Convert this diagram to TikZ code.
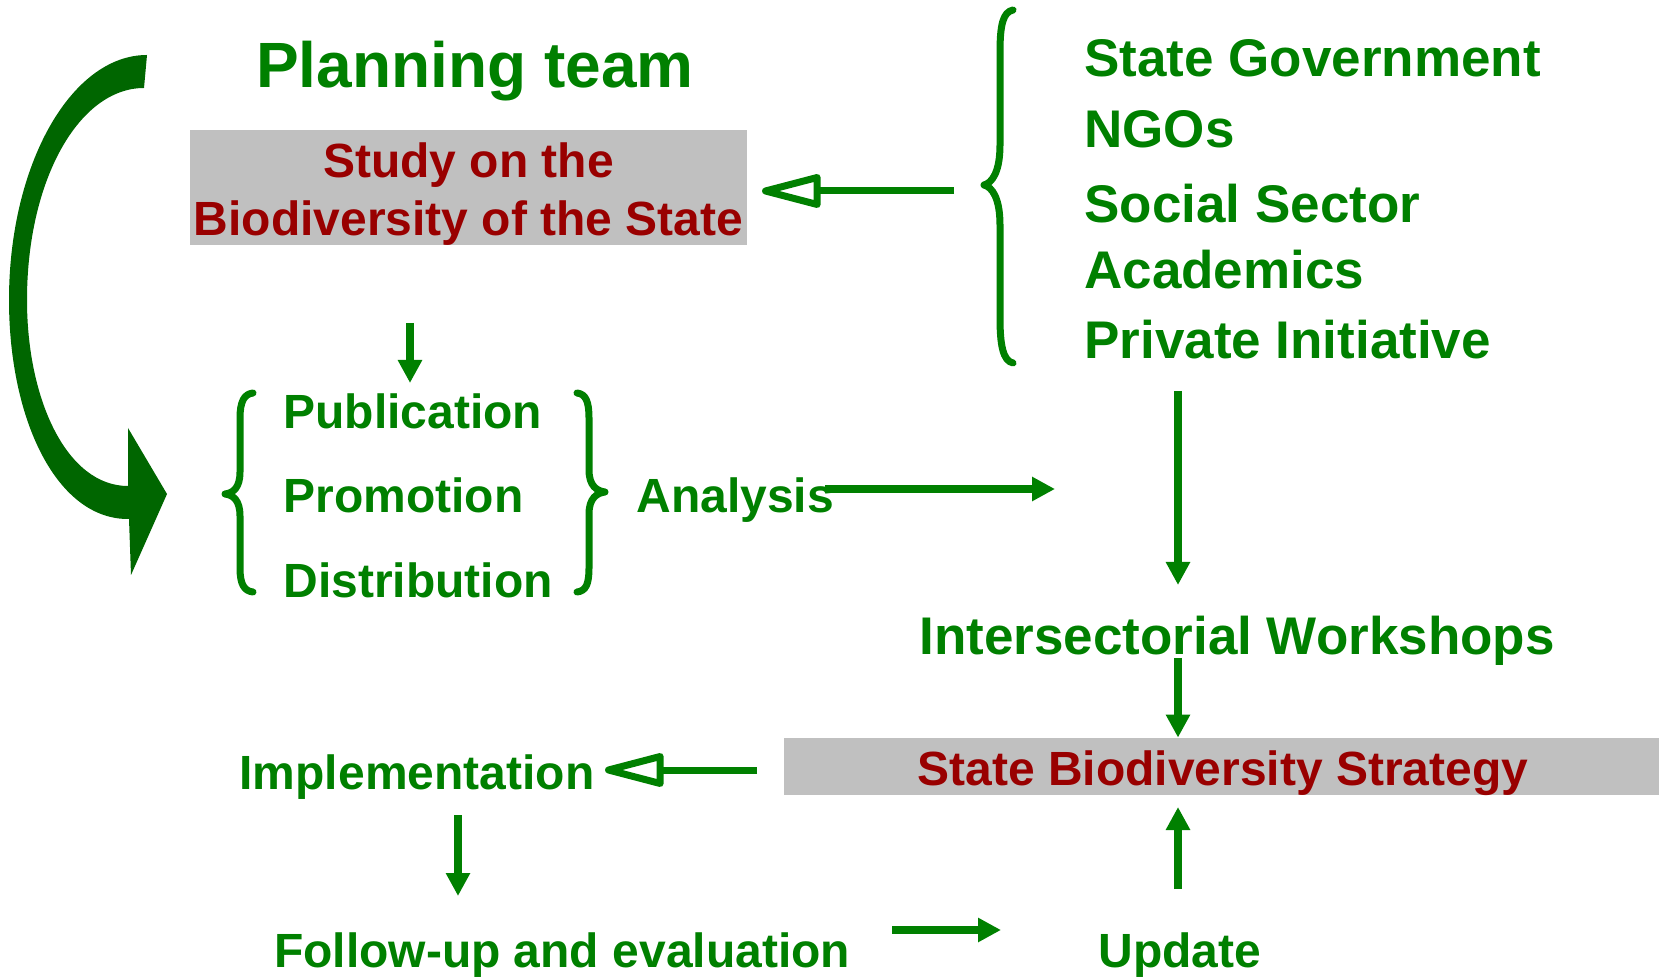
\documentclass[tikz,border=0pt]{standalone}
\usepackage{fontspec}
\setmainfont{Liberation Sans}
\usetikzlibrary{arrows.meta}
\definecolor{vert}{RGB}{0,128,0}
\definecolor{vertfonce}{RGB}{0,102,0}
\definecolor{rouge}{RGB}{153,0,0}
\definecolor{gris}{RGB}{192,192,192}

\begin{document}
\begin{tikzpicture}[x=0.5pt,y=-0.5pt,
	every node/.style={inner sep=0pt},
	txt/.style={text=vert, font=\bfseries\fontsize{24}{29}\selectfont},
	grand/.style={text=vert, font=\bfseries\fontsize{26.5}{31}\selectfont},
	boite/.style={fill=gris},
	rougetxt/.style={text=rouge, align=center, font=\bfseries\fontsize{24}{29}\selectfont},
	fleche/.style={draw=vert, line width=3.75pt, -{Triangle[length=11.5pt,width=11.5pt]}},
	ouverte/.style={draw=vert, line width=3.5pt, -{Triangle[open,length=35pt,width=17pt,round]}},
	accol/.style={draw=vert, line width=3.5pt, line cap=round, line join=round}]
		\useasboundingbox (0,0) rectangle (1659,977);
		% Titre
		\node[anchor=base, text=vert, font=\bfseries\fontsize{32}{38}\selectfont] (equipe) at (475,88) {Planning team};
		% Boite de l'etude
		\node[boite, minimum width=278.5pt, minimum height=57.5pt] (etude) at (468.5,187.5) {};
		\node[rougetxt] (etude-txt) at (468.5,194) {Study on the\\Biodiversity of the State};
		% Acteurs
		\node[grand, anchor=base west] (gouv) at (1084,77) {State Government};
		\node[grand, anchor=base west] (ong) at (1084,148) {NGOs};
		\node[grand, anchor=base west] (social) at (1084,223) {Social Sector};
		\node[grand, anchor=base west] (acad) at (1084,289) {Academics};
		\node[grand, anchor=base west] (prive) at (1084,359) {Private Initiative};
		% Accolade des acteurs
		\draw[accol] (1013,10) .. controls (1003,12) and (1000,25) .. (1000,52) -- (1000,145) .. controls (1000,172) and (992,183) .. (984,185) .. controls (992,187) and (1000,198) .. (1000,225) -- (1000,318) .. controls (1000,345) and (1003,361) .. (1013,363);
		% Publication, promotion, distribution
		\node[txt, anchor=base west] (pub) at (283,429) {Publication};
		\node[txt, anchor=base west] (promo) at (283,513) {Promotion};
		\node[txt, anchor=base west] (distri) at (283,598) {Distribution};
		\node[txt, anchor=base west] (analyse) at (636,513) {Analysis};
		% Accolades gauche et droite
		\draw[accol] (253,393) .. controls (244,394) and (240,402) .. (240,418) -- (240,472) .. controls (240,488) and (233,493) .. (225,494) .. controls (233,495) and (240,500) .. (240,516) -- (240,568) .. controls (240,584) and (244,591) .. (253,592);
		\draw[accol] (577,393) .. controls (586,394) and (589,402) .. (589,418) -- (589,470) .. controls (589,486) and (597,491) .. (605,492) .. controls (597,493) and (589,498) .. (589,514) -- (589,568) .. controls (589,584) and (586,591) .. (577,592);
		% Ateliers et strategie
		\node[grand, anchor=base] (ateliers) at (1237,654) {Intersectorial Workshops};
		\node[boite, minimum width=437.5pt, minimum height=28.5pt] (strat) at (1221.5,766.5) {};
		\node[rougetxt] (strat-txt) at (1223,773) {State Biodiversity Strategy};
		% Mise en oeuvre, suivi, mise a jour
		\node[txt, anchor=base] (mise) at (417,789) {Implementation};
		\node[txt, anchor=base] (suivi) at (562,967) {Follow-up and evaluation};
		\node[txt, anchor=base] (maj) at (1180,967) {Update};
		% Extremites des fleches
		\coordinate (acc-d) at (954,191);
		\coordinate (acc-a) at (762,191);
		\coordinate (etude-d) at (410,323);
		\coordinate (etude-a) at (410,383);
		\coordinate (ana-d) at (825,489);
		\coordinate (ana-a) at (1055,489);
		\coordinate (act-d) at (1178,391);
		\coordinate (act-a) at (1178,585);
		\coordinate (at-d) at (1178,658);
		\coordinate (strat-d) at (757,770);
		\coordinate (mise-a) at (605,770);
		\coordinate (mise-d) at (458,815);
		\coordinate (suivi-a) at (458,896);
		\coordinate (suivi-d) at (892,930);
		\coordinate (maj-a) at (1001,930);
		\coordinate (maj-d) at (1178,889);
		\coordinate (strat-a) at (1178,807);
		% Fleches
		\draw[ouverte] (acc-d) -- (acc-a);
		\draw[fleche] (etude-d) -- (etude-a);
		\draw[fleche] (ana-d) -- (ana-a);
		\draw[fleche] (act-d) -- (act-a);
		\draw[fleche] (at-d) -- (at-d |- strat.north);
		\draw[ouverte] (strat-d) -- (mise-a);
		\draw[fleche] (mise-d) -- (suivi-a);
		\draw[fleche] (suivi-d) -- (maj-a);
		\draw[fleche] (maj-d) -- (strat-a);
		% Grande fleche courbe
		\fill[vertfonce] (147,55) .. controls (71,55) and (9,165) .. (9,300) .. controls (9,420) and (57,520) .. (129,519) -- (131,575) -- (167,494) -- (128,428) -- (128,486) .. controls (67,486) and (27,400) .. (27,300) .. controls (27,180) and (79,88) .. (144,88) -- cycle;
\end{tikzpicture}
\end{document}
